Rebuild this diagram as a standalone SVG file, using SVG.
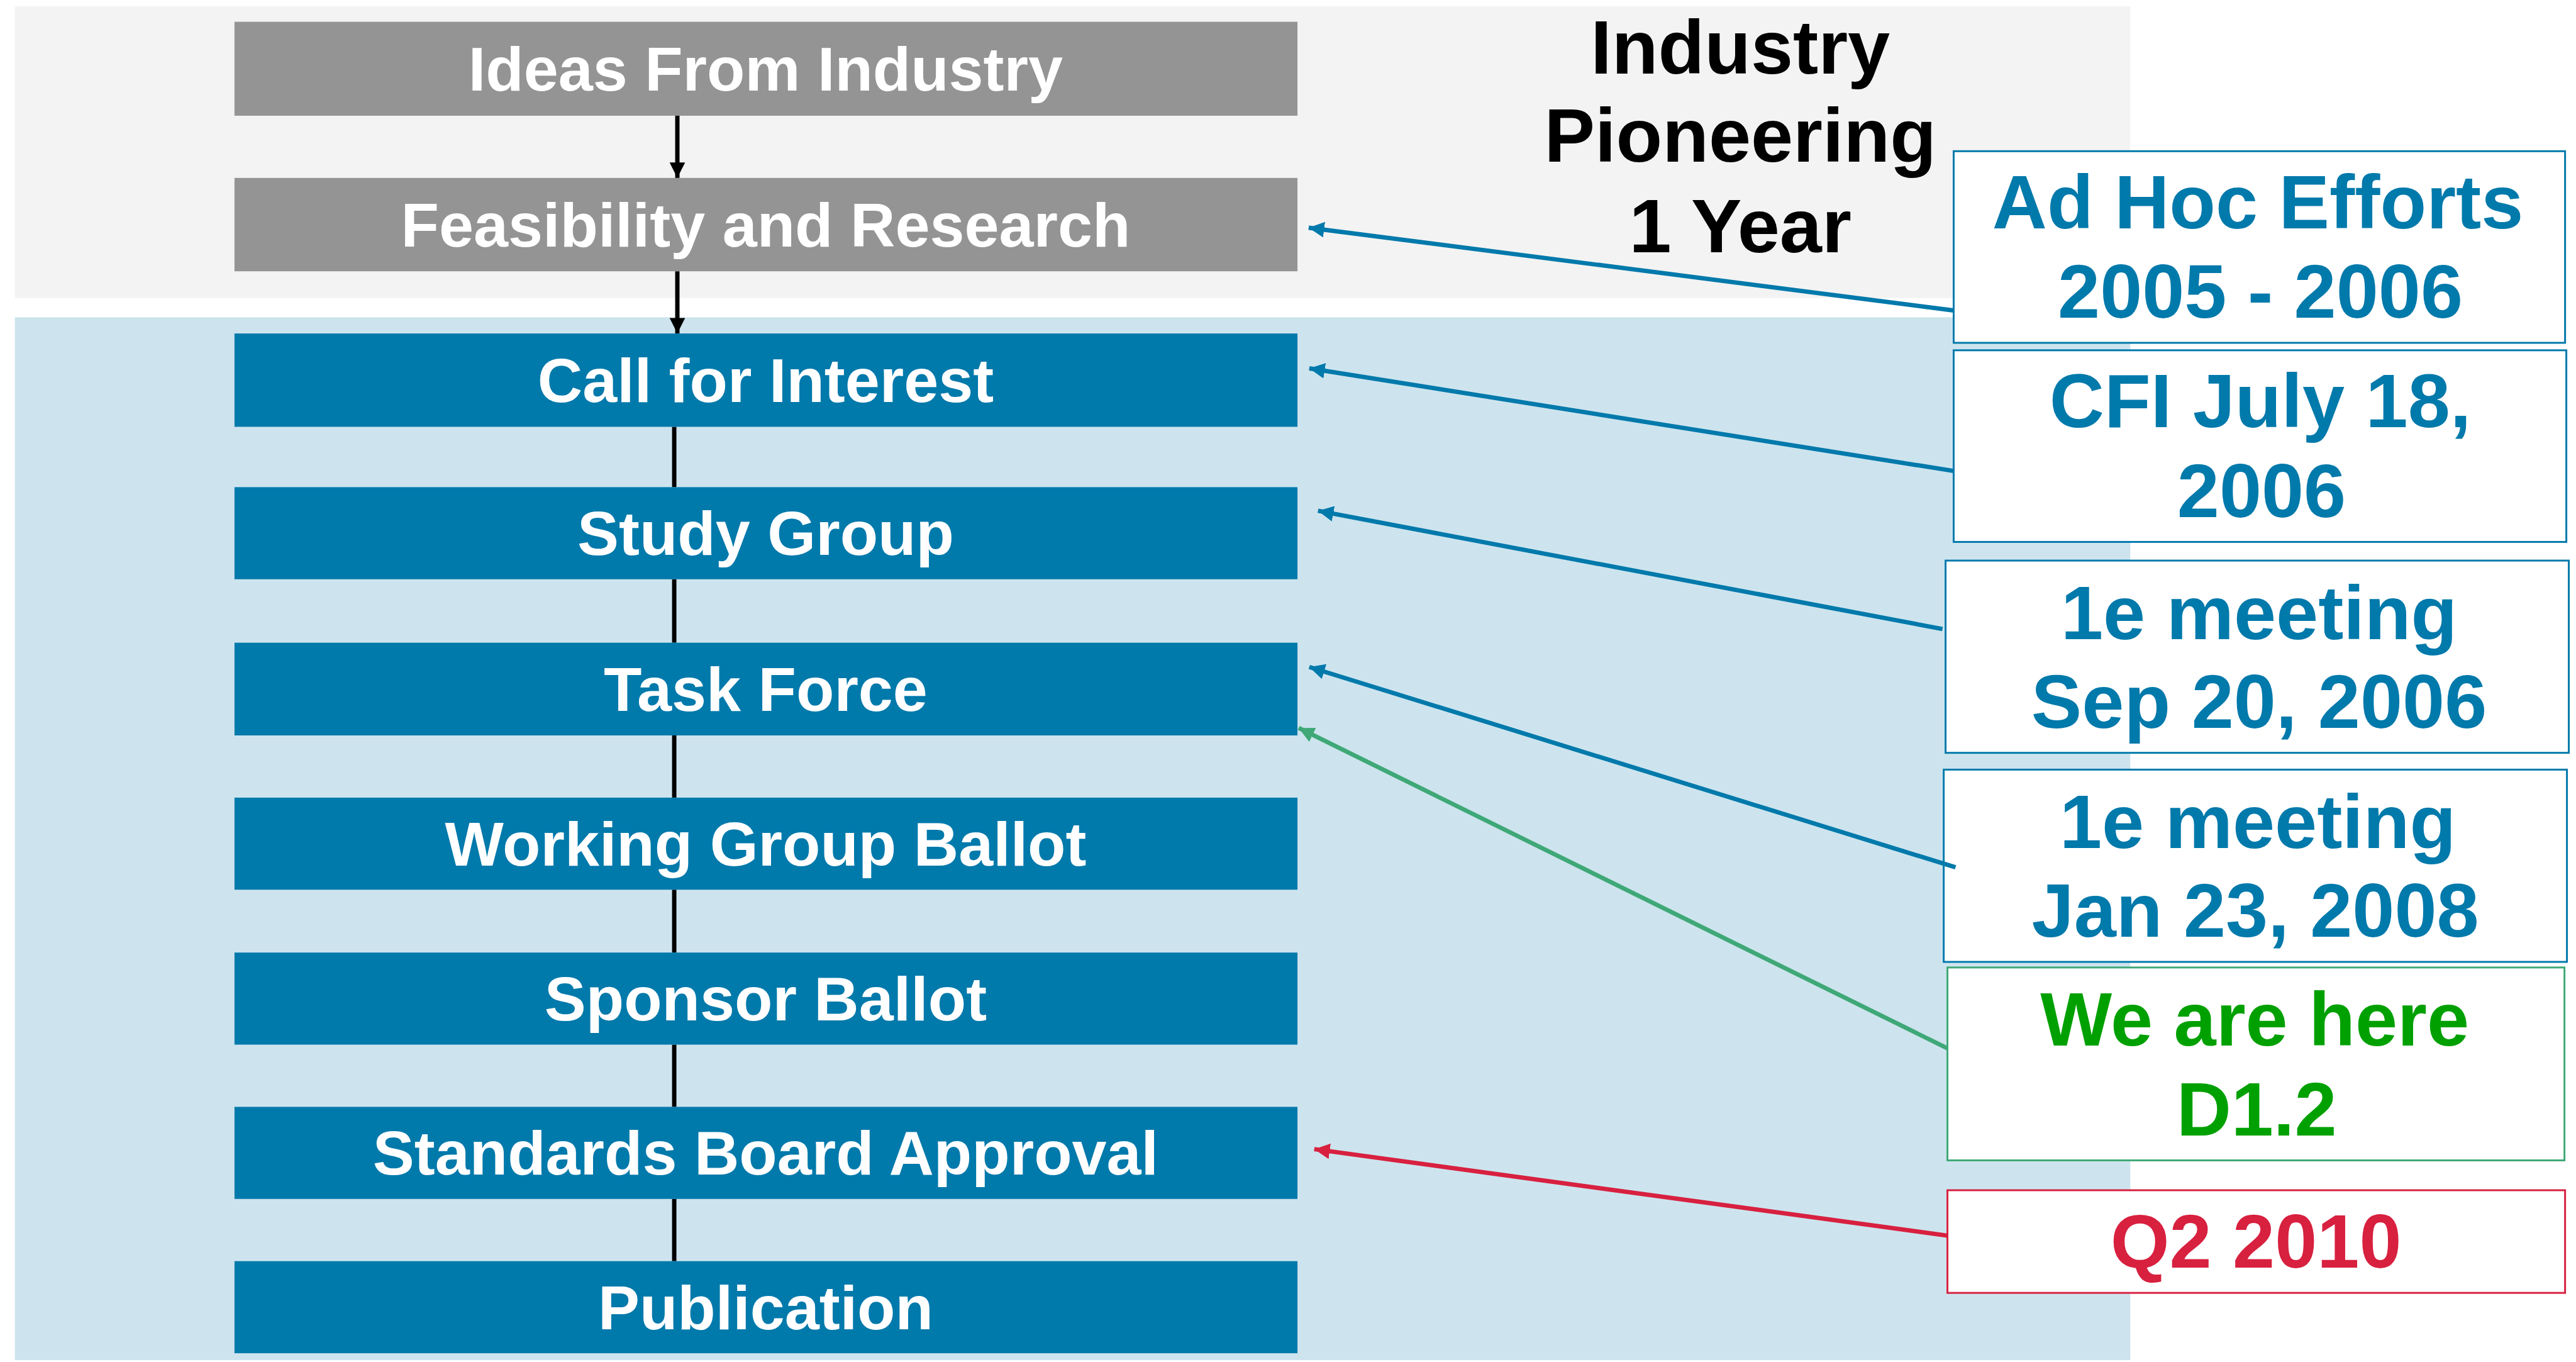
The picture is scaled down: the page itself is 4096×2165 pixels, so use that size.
<svg xmlns="http://www.w3.org/2000/svg" width="4096" height="2165" viewBox="0 0 4096 2165">
  <style>
    .node-gray { fill: #949494; }
    .node-blue { fill: #0079AB; }
    .node-text { font-family: "Liberation Sans", Arial, sans-serif; font-weight: bold; font-size: 100px; fill: #FFFFFF; text-anchor: middle; }
    .big-text { font-family: "Liberation Sans", Arial, sans-serif; font-weight: bold; font-size: 122px; text-anchor: middle; }
    .callout { fill: #FFFFFF; stroke-width: 3; }
    .flow { stroke: #000000; stroke-width: 7; fill: none; }
    .link { stroke-width: 7; fill: none; }
  </style>
  <defs>
    <marker id="head-black" markerUnits="userSpaceOnUse" markerWidth="26" markerHeight="26" refX="25" refY="12.5" orient="auto">
      <path d="M0,0 L25,12.5 L0,25 Z" fill="#000000"/>
    </marker>
    <marker id="head-blue" markerUnits="userSpaceOnUse" markerWidth="26" markerHeight="26" refX="25" refY="12.5" orient="auto">
      <path d="M0,0 L25,12.5 L0,25 Z" fill="#0079AB"/>
    </marker>
    <marker id="head-green" markerUnits="userSpaceOnUse" markerWidth="26" markerHeight="26" refX="25" refY="12.5" orient="auto">
      <path d="M0,0 L25,12.5 L0,25 Z" fill="#3FA877"/>
    </marker>
    <marker id="head-red" markerUnits="userSpaceOnUse" markerWidth="26" markerHeight="26" refX="25" refY="12.5" orient="auto">
      <path d="M0,0 L25,12.5 L0,25 Z" fill="#D8203F"/>
    </marker>
  </defs>

  <rect x="0" y="0" width="4096" height="2165" fill="#FFFFFF"/>

  <g transform="scale(0.989)">
    <!-- phase bands -->
    <g id="band-pioneering">
      <rect x="24" y="10" width="3401" height="469" fill="#F3F3F3"/>
    </g>
    <g id="band-standard">
      <rect x="24" y="510" width="3401" height="1676" fill="#CDE4EE"/>
    </g>

    <!-- process flow connectors -->
    <g id="flow-connectors">
      <line class="flow" x1="1089" y1="186" x2="1089" y2="286" marker-end="url(#head-black)"/>
      <line class="flow" x1="1089" y1="436" x2="1089" y2="536" marker-end="url(#head-black)"/>
      <line class="flow" x1="1084" y1="686" x2="1084" y2="783"/>
      <line class="flow" x1="1084" y1="931" x2="1084" y2="1033"/>
      <line class="flow" x1="1084" y1="1182" x2="1084" y2="1282"/>
      <line class="flow" x1="1084" y1="1430" x2="1084" y2="1531"/>
      <line class="flow" x1="1084" y1="1679" x2="1084" y2="1779"/>
      <line class="flow" x1="1084" y1="1927" x2="1084" y2="2027"/>
    </g>

    <!-- process steps -->
    <g id="step-ideas">
      <rect class="node-gray" x="377" y="35" width="1709" height="151"/>
      <text class="node-text" x="1231" y="146">Ideas From Industry</text>
    </g>
    <g id="step-feasibility">
      <rect class="node-gray" x="377" y="286" width="1709" height="150"/>
      <text class="node-text" x="1231" y="396">Feasibility and Research</text>
    </g>
    <g id="step-cfi">
      <rect class="node-blue" x="377" y="536" width="1709" height="150"/>
      <text class="node-text" x="1231" y="646">Call for Interest</text>
    </g>
    <g id="step-study">
      <rect class="node-blue" x="377" y="783" width="1709" height="148"/>
      <text class="node-text" x="1231" y="892">Study Group</text>
    </g>
    <g id="step-taskforce">
      <rect class="node-blue" x="377" y="1033" width="1709" height="149"/>
      <text class="node-text" x="1231" y="1143">Task Force</text>
    </g>
    <g id="step-wgballot">
      <rect class="node-blue" x="377" y="1282" width="1709" height="148"/>
      <text class="node-text" x="1231" y="1391">Working Group Ballot</text>
    </g>
    <g id="step-sponsor">
      <rect class="node-blue" x="377" y="1531" width="1709" height="148"/>
      <text class="node-text" x="1231" y="1640">Sponsor Ballot</text>
    </g>
    <g id="step-board">
      <rect class="node-blue" x="377" y="1779" width="1709" height="148"/>
      <text class="node-text" x="1231" y="1888">Standards Board Approval</text>
    </g>
    <g id="step-publication">
      <rect class="node-blue" x="377" y="2027" width="1709" height="148"/>
      <text class="node-text" x="1231" y="2136">Publication</text>
    </g>

    <!-- phase title -->
    <g id="title-pioneering">
      <text class="big-text" fill="#000000">
        <tspan x="2815" y="118">Industry</tspan>
        <tspan x="2815" y="260">Pioneering</tspan>
        <tspan x="2798" y="405">1 Year</tspan>
      </text>
    </g>

    <!-- milestone callouts -->
    <g id="note-adhoc">
      <rect class="callout" stroke="#0079AB" x="3141" y="243" width="983" height="308"/>
      <text class="big-text" fill="#0079AB">
        <tspan x="3647" y="367">Ad Hoc Efforts</tspan>
        <tspan x="3634" y="511">2005 - 2006</tspan>
      </text>
    </g>
    <g id="note-cfi">
      <rect class="callout" stroke="#0079AB" x="3141" y="563" width="985" height="308"/>
      <text class="big-text" fill="#0079AB">
        <tspan x="3651" y="687">CFI July 18,</tspan>
        <tspan x="3636" y="831">2006</tspan>
      </text>
    </g>
    <g id="note-sg">
      <rect class="callout" stroke="#0079AB" x="3128" y="901" width="1002" height="309"/>
      <text class="big-text" fill="#0079AB">
        <tspan x="3649" y="1027">1e meeting</tspan>
        <tspan x="3632" y="1170">Sep 20, 2006</tspan>
      </text>
    </g>
    <g id="note-tf">
      <rect class="callout" stroke="#0079AB" x="3125" y="1237" width="1002" height="309"/>
      <text class="big-text" fill="#0079AB">
        <tspan x="3647" y="1363">1e meeting</tspan>
        <tspan x="3626" y="1506">Jan 23, 2008</tspan>
      </text>
    </g>
    <g id="note-current">
      <rect class="callout" stroke="#3FA877" x="3131" y="1555" width="992" height="310"/>
      <text class="big-text" fill="#00A000">
        <tspan x="3642" y="1680">We are here</tspan>
        <tspan x="3628" y="1825">D1.2</tspan>
      </text>
    </g>
    <g id="note-approval">
      <rect class="callout" stroke="#D8203F" x="3131" y="1913" width="993" height="165"/>
      <text class="big-text" fill="#D8203F">
        <tspan x="3627" y="2037">Q2 2010</tspan>
      </text>
    </g>

    <!-- milestone connectors -->
    <g id="milestone-connectors">
      <line class="link" stroke="#0079AB" x1="3141" y1="499" x2="2104" y2="366" marker-end="url(#head-blue)"/>
      <line class="link" stroke="#0079AB" x1="3141" y1="757" x2="2105" y2="592" marker-end="url(#head-blue)"/>
      <line class="link" stroke="#0079AB" x1="3123" y1="1011" x2="2119" y2="821" marker-end="url(#head-blue)"/>
      <line class="link" stroke="#0079AB" x1="3144" y1="1394" x2="2105" y2="1072" marker-end="url(#head-blue)"/>
      <line class="link" stroke="#3FA877" x1="3131" y1="1685" x2="2088" y2="1170" marker-end="url(#head-green)"/>
      <line class="link" stroke="#D8203F" x1="3131" y1="1986" x2="2113" y2="1847" marker-end="url(#head-red)"/>
    </g>
  </g>
</svg>
